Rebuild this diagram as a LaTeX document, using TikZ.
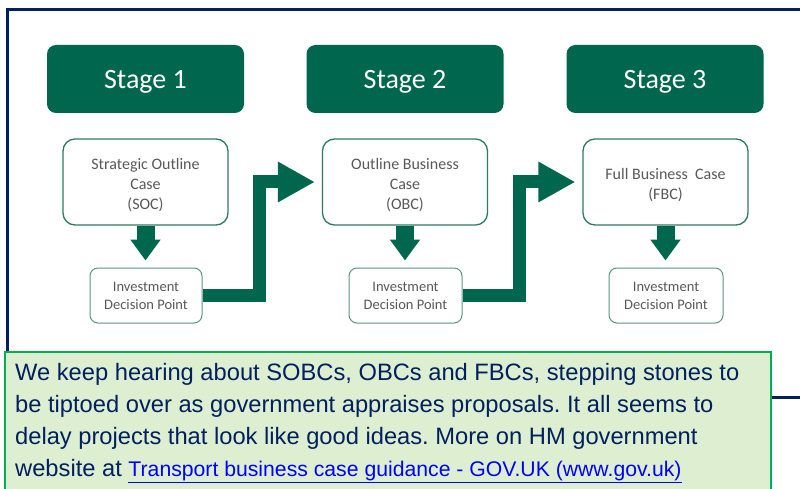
\documentclass[tikz,border=0pt]{standalone}
\usepackage{fontspec}
\setmainfont{Carlito}
\newfontfamily\arialf{Liberation Sans}
\usetikzlibrary{arrows.meta}
\frenchspacing
\definecolor{dkgreen}{HTML}{00674F}
\definecolor{boxline}{HTML}{2F7A62}
\definecolor{navyc}{HTML}{002060}
\definecolor{notefill}{HTML}{DDEFD0}
\definecolor{noteline}{HTML}{00B050}
\definecolor{graytext}{HTML}{595959}
\definecolor{linkblue}{HTML}{0000FF}
\newcommand{\topstrut}{\rule{0pt}{17.5pt}}
\tikzset{
  stagebox/.style={fill=dkgreen, draw=none, rounded corners=9pt, minimum width=197pt, minimum height=68pt, text=white, text height=20pt, text depth=0pt, font=\fontsize{28}{32}\selectfont},
  casebox/.style={draw=boxline, line width=1.3pt, fill=white, rounded corners=12pt, minimum width=165pt, minimum height=86pt, text=graytext, align=center, font=\fontsize{16}{20}\selectfont},
  invbox/.style={draw=boxline!80, line width=1pt, fill=white, rounded corners=8pt, minimum height=55pt, text=graytext, align=center, font=\fontsize{14.5}{18}\selectfont},
  downarrow/.style={draw=dkgreen, line width=18pt, -{Triangle[width=29pt,length=21pt]}, shorten >=7pt},
  elbowarrow/.style={draw=dkgreen, line width=13pt, line join=miter, -{Triangle[width=38pt,length=37pt]}, shorten >=7pt},
}
\begin{document}
\begin{tikzpicture}[x=1pt,y=-1pt]
\useasboundingbox (0,0) rectangle (800,489);
\fill[white] (0,0) rectangle (800,489);
\begin{scope}
\clip (0,0) rectangle (800,489);
\draw[navyc, line width=3pt] (7,10) rectangle (830,397);
\end{scope}
% stages
\node[stagebox] (s1) at (145.5,79) {Stage 1};
\node[stagebox] (s2) at (405,79) {Stage 2};
\node[stagebox] (s3) at (665,79) {Stage 3};
% cases
\node[casebox] (soc) at (145.5,182) {\topstrut Strategic Outline\\Case\\(SOC)};
\node[casebox] (obc) at (405,182) {\topstrut Outline Business\\Case\\(OBC)};
\node[casebox] (fbc) at (665.5,182) {\topstrut Full Business\ \ Case\\(FBC)};
% investment points
\node[invbox, minimum width=112pt] (inv1) at (146,295.5) {Investment\\Decision Point};
\node[invbox, minimum width=113pt] (inv2) at (405.5,295.5) {Investment\\Decision Point};
\node[invbox, minimum width=114pt] (inv3) at (666,295.5) {Investment\\Decision Point};
% arrows
\draw[downarrow] (soc.south) -- (soc.south |- inv1.north);
\draw[downarrow] (obc.south) -- (obc.south |- inv2.north);
\draw[downarrow] (fbc.south) -- (fbc.south |- inv3.north);
\draw[elbowarrow] (inv1.east) -- ++(57,0) |- (obc.west);
\draw[elbowarrow] (inv2.east) -- ++(57,0) |- (fbc.west);
% note box
\draw[draw=noteline, fill=notefill, line width=2pt] (5,352) rectangle (771,500);
\node[anchor=base west, inner sep=0pt, align=left, text=navyc, font=\arialf\fontsize{23.7}{32}\selectfont] (note) at (15,476)
 {We keep hearing about SOBCs, OBCs and FBCs, stepping stones to\\
  be tiptoed over as government appraises proposals. It all seems to\\
  delay projects that look like good ideas. More on HM government\\
  website at {\fontsize{21.2}{32}\selectfont\color{linkblue}\underline{Transport business case guidance - GOV.UK (www.gov.uk)}}};
\end{tikzpicture}
\end{document}
